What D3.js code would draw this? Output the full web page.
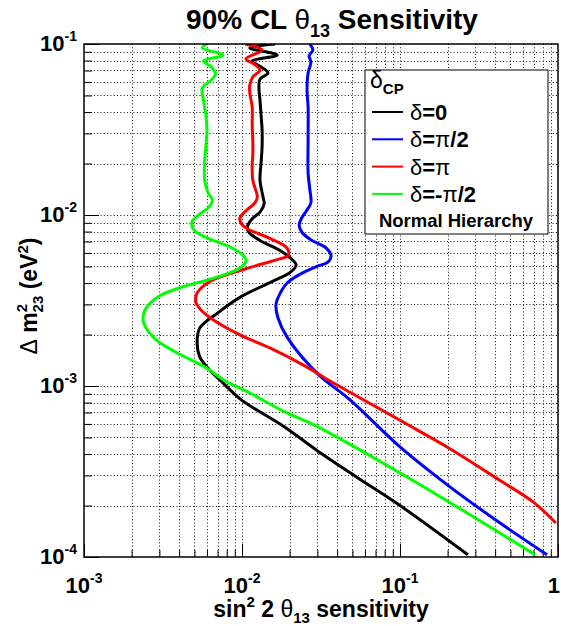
<!DOCTYPE html>
<html>
<head>
<meta charset="utf-8">
<script src="https://cdn.jsdelivr.net/npm/d3@7"></script>
<style>
  body { margin: 0; background: #fff; }
  svg { display: block; font-family: "Liberation Sans", Arial, Helvetica, sans-serif; }
</style>
</head>
<body>
<svg id="chart" width="561" height="626"></svg>
<script>
// ---- data: sin^2 2θ13 sensitivity (x) versus Δm²23 in eV² (y) ----
const seriesLabels = ["0", "π/2", "π", "-π/2"];
const seriesColors = ["#000000", "#0000ff", "#ff0000", "#00ff00"];

const dm2Delta0 = [0.100, 0.0948, 0.0862, 0.0795, 0.0734, 0.0677, 0.0624, 0.0553, 0.0470, 0.0385,
  0.0314, 0.0250, 0.0201, 0.0160, 0.0127, 0.0116, 0.0104, 0.0095, 0.0085, 0.0079,
  0.0071, 0.0062, 0.0055, 0.0051, 0.0046, 0.0041, 0.0033, 0.00267, 0.00218, 0.00178,
  0.00148, 0.00127, 0.00104, 0.00083, 0.00058, 0.00042, 0.00029, 0.00020, 0.000103];
const sin2Delta0 = [0.0162, 0.0112, 0.0167, 0.0116, 0.0132, 0.0146, 0.0130, 0.0128, 0.0130, 0.0132,
  0.0134, 0.0134, 0.0132, 0.0130, 0.0136, 0.0138, 0.0130, 0.0116, 0.0108, 0.0111,
  0.0130, 0.0174, 0.0207, 0.0220, 0.0201, 0.0157, 0.0097, 0.0070, 0.0054, 0.0052,
  0.0054, 0.0061, 0.0076, 0.0099, 0.0184, 0.0298, 0.0542, 0.100, 0.269];

const dm2DeltaHalfPi = [0.100, 0.0922, 0.0851, 0.0785, 0.0677, 0.0538, 0.0428, 0.0275, 0.0176, 0.0140,
  0.0118, 0.0107, 0.0097, 0.0087, 0.0079, 0.0071, 0.0065, 0.0058, 0.0053, 0.0050,
  0.0045, 0.0040, 0.0034, 0.0030, 0.0025, 0.00193, 0.00119, 0.00083, 0.00044, 0.000257,
  0.000158, 0.000103];
const sin2DeltaHalfPi = [0.0269, 0.0281, 0.0266, 0.0273, 0.0262, 0.0258, 0.0262, 0.0262, 0.0262, 0.0269,
  0.0273, 0.0258, 0.0240, 0.0230, 0.0240, 0.0277, 0.0335, 0.0366, 0.0350, 0.0298,
  0.0233, 0.0193, 0.0172, 0.0164, 0.0169, 0.0193, 0.0298, 0.0483, 0.100, 0.207,
  0.430, 0.852];

const dm2DeltaPi = [0.100, 0.0922, 0.0818, 0.0764, 0.0705, 0.0641, 0.0576, 0.0517, 0.0428, 0.0336,
  0.0275, 0.0224, 0.0196, 0.0160, 0.0127, 0.0118, 0.0106, 0.0096, 0.0089, 0.0083,
  0.0073, 0.0064, 0.0058, 0.0055, 0.0048, 0.0041, 0.0035, 0.0031, 0.00278, 0.00243,
  0.00199, 0.00167, 0.00133, 0.00107, 0.00063, 0.00043, 0.00028, 0.00021, 0.000158];
const sin2DeltaPi = [0.0105, 0.0134, 0.0106, 0.0119, 0.0130, 0.0117, 0.0112, 0.0112, 0.0116, 0.0116,
  0.0117, 0.0117, 0.0116, 0.0117, 0.0125, 0.0121, 0.0106, 0.0097, 0.0099, 0.0108,
  0.0150, 0.0193, 0.0196, 0.0169, 0.0102, 0.0063, 0.0052, 0.0051, 0.0055, 0.0066,
  0.0097, 0.0150, 0.0243, 0.0361, 0.100, 0.207, 0.430, 0.695, 0.97];

const dm2DeltaMinusHalfPi = [0.100, 0.0948, 0.0862, 0.0795, 0.0734, 0.0668, 0.0616, 0.0553, 0.0470, 0.0385,
  0.0314, 0.0250, 0.0201, 0.0160, 0.0135, 0.0122, 0.0110, 0.0100, 0.0090, 0.0081,
  0.0073, 0.0065, 0.0058, 0.0054, 0.0049, 0.0043, 0.00385, 0.00336, 0.0029, 0.0025,
  0.00218, 0.00186, 0.00156, 0.00127, 0.00108, 0.00091, 0.00071, 0.00058, 0.00031, 0.000181,
  0.000103];
const sin2DeltaMinusHalfPi = [0.0060, 0.0056, 0.0076, 0.0057, 0.0064, 0.0068, 0.0064, 0.0056, 0.0057, 0.0059,
  0.0060, 0.0059, 0.0058, 0.0058, 0.0061, 0.0065, 0.0061, 0.0053, 0.0048, 0.0050,
  0.0061, 0.0084, 0.0102, 0.0106, 0.0097, 0.0068, 0.0044, 0.0030, 0.0025, 0.00236,
  0.00247, 0.00286, 0.0039, 0.0060, 0.0077, 0.0112, 0.0184, 0.0298, 0.100, 0.266,
  0.715];

// axis decades and their exponent labels
const xDecades = [1e-3, 1e-2, 1e-1, 1];
const xTickExps = ["-3", "-2", "-1", ""];
const yDecades = [1e-4, 1e-3, 1e-2, 1e-1];
const yTickExps = ["-4", "-3", "-2", "-1"];

// ---- layout ----
const frame = { left: 84, right: 558, top: 44, bottom: 557 };
const svg = d3.select("#chart");

const x = d3.scaleLog().domain([1e-3, 1]).range([frame.left, frame.right]);
const y = d3.scaleLog().domain([1e-4, 1e-1]).range([frame.bottom, frame.top]);

const isDecade = v => Math.abs(Math.log10(v) - Math.round(Math.log10(v))) < 1e-9;
const xAll = x.ticks();
const yAll = y.ticks();

// dotted grid at every tick
const grid = svg.append("g").attr("stroke", "#111").attr("stroke-width", 1)
  .attr("stroke-dasharray", "1 2.3").attr("fill", "none");
grid.selectAll("line.gx").data(xAll.filter(v => v > 1e-3 && v < 1)).join("line")
  .attr("x1", d => Math.round(x(d)) + 0.5).attr("x2", d => Math.round(x(d)) + 0.5)
  .attr("y1", frame.top).attr("y2", frame.bottom);
grid.selectAll("line.gy").data(yAll.filter(v => v > 1e-4 && v < 1e-1)).join("line")
  .attr("y1", d => Math.round(y(d)) + 0.5).attr("y2", d => Math.round(y(d)) + 0.5)
  .attr("x1", frame.left).attr("x2", frame.right);

// inward ticks, longer at each decade
function addAxis(axis, transform) {
  const g = svg.append("g").attr("transform", transform).call(axis);
  g.select(".domain").remove();
  g.selectAll("line").attr("stroke", "#000").attr("stroke-width", 1);
  g.selectAll("text").remove();
}
addAxis(d3.axisBottom(x).tickValues(xAll.filter(v => !isDecade(v))).tickSize(-7),
  `translate(0,${frame.bottom})`);
addAxis(d3.axisBottom(x).tickValues(xAll.filter(isDecade)).tickSize(-13),
  `translate(0,${frame.bottom})`);
addAxis(d3.axisLeft(y).tickValues(yAll.filter(v => !isDecade(v))).tickSize(-8),
  `translate(${frame.left},0)`);
addAxis(d3.axisLeft(y).tickValues(yAll.filter(isDecade)).tickSize(-15),
  `translate(${frame.left},0)`);

// curves
svg.append("clipPath").attr("id", "plotClip").append("rect")
  .attr("x", frame.left).attr("y", frame.top)
  .attr("width", frame.right - frame.left).attr("height", frame.bottom - frame.top);

const seriesData = [
  d3.zip(sin2Delta0, dm2Delta0),
  d3.zip(sin2DeltaHalfPi, dm2DeltaHalfPi),
  d3.zip(sin2DeltaPi, dm2DeltaPi),
  d3.zip(sin2DeltaMinusHalfPi, dm2DeltaMinusHalfPi)
];
const line = d3.line().x(d => x(d[0])).y(d => y(d[1])).curve(d3.curveCatmullRom.alpha(0.5));
svg.append("g").attr("clip-path", "url(#plotClip)")
  .selectAll("path").data(seriesData).join("path")
  .attr("d", line).attr("fill", "none")
  .attr("stroke", (d, i) => seriesColors[i]).attr("stroke-width", 3)
  .attr("stroke-linejoin", "round").attr("stroke-linecap", "butt");

// frame
svg.append("rect").attr("x", frame.left).attr("y", frame.top)
  .attr("width", frame.right - frame.left).attr("height", frame.bottom - frame.top)
  .attr("fill", "none").attr("stroke", "#000").attr("stroke-width", 1.5);

// rich text helper: parts are [text, {weight, size, dy, dx}]
function rich(parent, px, py, parts, anchor, base) {
  const t = parent.append("text").attr("x", px).attr("y", py)
    .attr("text-anchor", anchor || "start").attr("font-size", base.size)
    .attr("font-weight", base.weight || "bold").attr("fill", "#000");
  parts.forEach(([s, o]) => {
    const ts = t.append("tspan").text(s);
    if (o) {
      if (o.size) ts.attr("font-size", o.size);
      if (o.weight) ts.attr("font-weight", o.weight);
      if (o.dy) ts.attr("dy", o.dy);
      if (o.dx) ts.attr("dx", o.dx);
    }
  });
  return t;
}

// tick labels
xDecades.forEach((v, i) => {
  if (xTickExps[i]) {
    rich(svg, x(v), 593, [["10"], [xTickExps[i], { size: 14, dy: -10 }]], "middle", { size: 22 });
  } else {
    rich(svg, 560, 593, [["1"]], "end", { size: 22 });
  }
});
yDecades.forEach((v, i) => {
  rich(svg, 77, y(v) + 7, [["10"], [yTickExps[i], { size: 14, dy: -10 }]], "end", { size: 22 });
});

// title
rich(svg, 332, 29, [
  ["90% CL "], ["θ", { weight: "normal" }], ["13", { size: 18, dy: 8 }],
  [" Sensitivity", { dy: -8 }]
], "middle", { size: 28 });

// x axis title
rich(svg, 321, 617, [
  ["sin"], ["2", { size: 15, dy: -10 }], [" 2 ", { dy: 10 }], ["θ", { weight: "normal" }],
  ["13", { size: 15, dy: 6 }], [" sensitivity", { dy: -6 }]
], "middle", { size: 23 });

// y axis title
const yTitle = svg.append("g").attr("transform", "translate(37,296) rotate(-90)");
rich(yTitle, 0, 0, [
  ["Δ", { weight: "normal" }], [" m"], ["2", { size: 15, dy: -10 }],
  ["23", { size: 15, dx: -8.5, dy: 16 }], [" (eV", { dy: -6 }],
  ["2", { size: 15, dy: -9 }], [")", { dy: 9 }]
], "middle", { size: 23 });

// legend
const legend = svg.append("g");
legend.append("rect").attr("x", 365).attr("y", 70).attr("width", 183).attr("height", 164)
  .attr("fill", "#fff").attr("stroke", "#000").attr("stroke-width", 1);
rich(legend, 370, 88, [["δ", { weight: "normal" }], ["CP", { size: 15, dy: 6 }]], "start", { size: 23 });
seriesLabels.forEach((lab, i) => {
  const ly = 112 + i * 27.3;
  legend.append("line").attr("x1", 372).attr("x2", 403).attr("y1", ly).attr("y2", ly)
    .attr("stroke", seriesColors[i]).attr("stroke-width", 2);
  const parts = [["δ", { weight: "normal" }], ["="]];
  lab.split(/(π)/).filter(s => s).forEach(s => parts.push(s === "π" ? [s, { weight: "normal" }] : [s]));
  rich(legend, 410, ly + 8, parts, "start", { size: 22 });
});
rich(legend, 456, 227, [["Normal Hierarchy"]], "middle", { size: 18.5 });
</script>
</body>
</html>
